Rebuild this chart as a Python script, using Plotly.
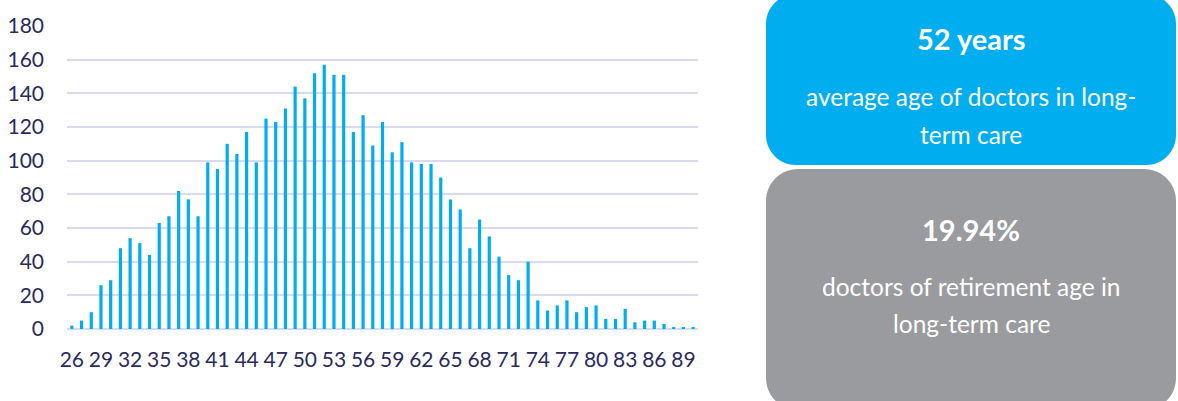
import plotly.graph_objects as go

# Number of doctors in long-term care by age
ages = list(range(26, 91))
doctors = [
    2, 5, 10, 26, 29, 48, 54, 51, 44, 63,      # 26-35
    67, 82, 77, 67, 99, 95, 110, 104, 117, 99,  # 36-45
    125, 123, 131, 144, 137, 152, 157, 151, 151, 117,  # 46-55
    127, 109, 123, 105, 111, 99, 98, 98, 90, 77,  # 56-65
    71, 48, 65, 55, 43, 32, 29, 40, 17, 11,    # 66-75
    14, 17, 10, 13, 14, 6, 6, 12, 4, 5,        # 76-85
    5, 3, 1, 1, 1,                             # 86-90
]
age_ticks = list(range(26, 91, 3))
y_ticks = list(range(0, 181, 20))

# Key figures shown beside the chart
avg_age_value = "52 years"
avg_age_lines = ["average age of doctors in long-", "term care"]
retire_value = "19.94%"
retire_lines = ["doctors of retirement age in", "long-term care"]

W, H = 1178, 401
ML, MR, MT, MB = 67, 480, 26, 72
PW, PH = W - ML - MR, H - MT - MB

BLUE = "#00AEEF"
GREY = "#9A9B9F"
NAVY = "#2A2A5C"
GRID = "#D9D9EF"
FONT = "Lato"


def px(x):
    return (x - ML) / PW


def py(y):
    return (H - MB - y) / PH


def rounded_rect(x0, y0, x1, y1, r):
    """SVG path (paper coordinates) for a rounded rectangle given in pixels."""
    k = 0.5523 * r
    pts = [
        ("M", [(x0 + r, y0)]),
        ("L", [(x1 - r, y0)]),
        ("C", [(x1 - r + k, y0), (x1, y0 + r - k), (x1, y0 + r)]),
        ("L", [(x1, y1 - r)]),
        ("C", [(x1, y1 - r + k), (x1 - r + k, y1), (x1 - r, y1)]),
        ("L", [(x0 + r, y1)]),
        ("C", [(x0 + r - k, y1), (x0, y1 - r + k), (x0, y1 - r)]),
        ("L", [(x0, y0 + r)]),
        ("C", [(x0, y0 + r - k), (x0 + r - k, y0), (x0 + r, y0)]),
    ]
    parts = []
    for cmd, coords in pts:
        parts.append(cmd + " " + " ".join(f"{px(a):.5f},{py(b):.5f}" for a, b in coords))
    return " ".join(parts) + " Z"


fig = go.Figure(
    go.Bar(
        x=ages,
        y=doctors,
        width=0.33,
        marker=dict(color=BLUE, line=dict(width=0)),
        hoverinfo="x+y",
    )
)

fig.update_layout(
    width=W,
    height=H,
    margin=dict(l=ML, r=MR, t=MT, b=MB, pad=0, autoexpand=False),
    paper_bgcolor="white",
    plot_bgcolor="white",
    showlegend=False,
    font=dict(family=FONT, color=NAVY, size=21),
)

fig.update_xaxes(
    range=[25.5, 90.5],
    tickmode="array",
    tickvals=age_ticks,
    ticktext=[str(a) for a in age_ticks],
    showgrid=False,
    showline=False,
    zeroline=False,
    ticks="",
    automargin=False,
    ticklabelstandoff=16,
    tickfont=dict(family=FONT, size=21, color=NAVY),
)
fig.update_yaxes(
    range=[0, 180],
    tickmode="array",
    tickvals=y_ticks,
    showgrid=True,
    gridcolor=GRID,
    gridwidth=2,
    zeroline=True,
    zerolinecolor=GRID,
    zerolinewidth=2,
    showline=False,
    ticks="",
    automargin=False,
    ticklabelstandoff=22,
    tickfont=dict(family=FONT, size=21, color=NAVY),
)

# Rounded info panels
fig.add_shape(type="path", xref="paper", yref="paper",
              path=rounded_rect(766, -6, 1176, 165, 30),
              fillcolor=BLUE, line=dict(width=0), layer="below")
fig.add_shape(type="path", xref="paper", yref="paper",
              path=rounded_rect(766, 169, 1176, 410, 32),
              fillcolor=GREY, line=dict(width=0), layer="below")

cx = 971


def label(text, y, size, bold=False):
    fig.add_annotation(
        x=px(cx), y=py(y), xref="paper", yref="paper",
        xanchor="center", yanchor="middle", showarrow=False,
        text=f"<b>{text}</b>" if bold else text,
        font=dict(family=FONT, size=size, color="white"),
    )


label(avg_age_value, 38, 29, bold=True)
label(avg_age_lines[0], 97, 24.5)
label(avg_age_lines[1], 134, 24.5)
label(retire_value, 229, 29, bold=True)
label(retire_lines[0], 286, 24.5)
label(retire_lines[1], 323, 24.5)

fig.write_html("out.html")
